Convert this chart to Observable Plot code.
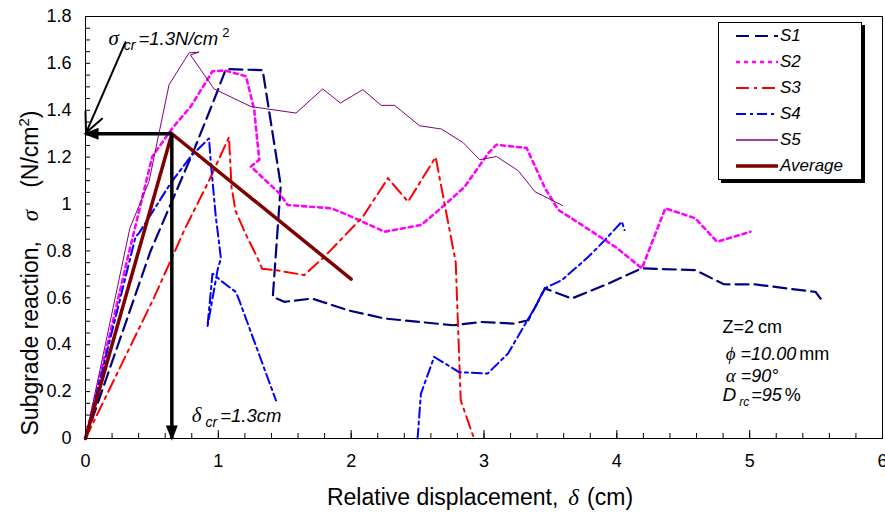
<!DOCTYPE html>
<html><head><meta charset="utf-8">
<script src="https://cdn.jsdelivr.net/npm/d3@7"></script>
<script src="https://cdn.jsdelivr.net/npm/@observablehq/plot@0.6"></script>
<style>
body{margin:0;background:#fff;font-family:"Liberation Sans",Arial,sans-serif;}
#wrap{position:relative;width:885px;height:514px;overflow:hidden;}
#legend{position:absolute;left:718px;top:22px;width:144px;height:158px;border:1px solid #000;background:#fff;box-shadow:3px 3px 0 #000;box-sizing:border-box;}
#legend .row{position:absolute;left:0;height:20px;width:140px;}
#legend svg{position:absolute;left:0;top:0;}
#legend span{position:absolute;left:61px;top:0;line-height:20px;font-style:italic;font-size:17px;}
</style></head><body><div id="wrap"><div id="legend"></div></div>
<script>
// ---- data ----
const xTickLabels = [0, 1, 2, 3, 4, 5, 6];
const yTickLabels = [0, 0.2, 0.4, 0.6, 0.8, 1, 1.2, 1.4, 1.6, 1.8];

const s1X = [0, 0.49, 0.817, 0.968, 1.057, 1.334, 1.47, 1.41, 1.497, 1.706, 1.975, 2.251, 2.767, 2.981, 3.22, 3.333, 3.459, 3.66, 3.937, 4.189, 4.591, 4.805, 5.044, 5.497, 5.534];
const s1Y = [0, 0.80, 1.231, 1.445, 1.576, 1.571, 1.08, 0.604, 0.583, 0.597, 0.547, 0.512, 0.483, 0.497, 0.49, 0.504, 0.64, 0.597, 0.661, 0.726, 0.718, 0.658, 0.657, 0.625, 0.597];

const s2X = [0, 0.33, 0.503, 0.654, 0.792, 0.956, 1.05, 1.208, 1.27, 1.308, 1.245, 1.459, 1.522, 1.849, 1.975, 2.251, 2.528, 2.704, 2.855, 3.032, 3.094, 3.321, 3.459, 3.56, 3.736, 3.987, 4.189, 4.365, 4.591, 4.755, 5.006];
const s2Y = [0, 0.80, 1.203, 1.324, 1.416, 1.566, 1.57, 1.545, 1.402, 1.189, 1.16, 1.046, 0.996, 0.982, 0.953, 0.882, 0.911, 0.996, 1.074, 1.217, 1.253, 1.239, 1.068, 0.975, 0.911, 0.818, 0.726, 0.982, 0.939, 0.839, 0.882];

const s3X = [0, 0.515, 0.753, 0.93, 1.08, 1.10, 1.13, 1.205, 1.293, 1.33, 1.434, 1.647, 1.798, 2.088, 2.277, 2.428, 2.636, 2.787, 2.825, 2.925];
const s3Y = [0, 0.60, 0.90, 1.10, 1.285, 1.07, 0.97, 0.873, 0.773, 0.724, 0.718, 0.697, 0.775, 0.946, 1.11, 1.01, 1.20, 0.752, 0.162, 0];

const s4aX = [0, 0.377, 0.402, 0.641, 0.792, 0.906, 0.93, 0.942, 0.981, 1.006, 1.019, 0.994, 0.918, 0.956, 1.031, 1.132, 1.157, 1.434];
const s4aY = [0, 0.861, 0.875, 1.089, 1.203, 1.267, 1.281, 1.186, 0.946, 0.832, 0.768, 0.718, 0.476, 0.704, 0.668, 0.625, 0.59, 0.162];
const s4bX = [2.5, 2.525, 2.625, 2.813, 3.027, 3.18, 3.40, 3.455, 3.585, 3.786, 3.911, 4.038, 4.058];
const s4bY = [0, 0.191, 0.348, 0.283, 0.277, 0.362, 0.575, 0.64, 0.675, 0.775, 0.847, 0.925, 0.889];

const s5X = [0, 0.334, 0.478, 0.629, 0.78, 0.855, 0.79, 0.968, 1.245, 1.585, 1.786, 1.919, 2.088, 2.226, 2.327, 2.515, 2.679, 2.843, 2.968, 3.094, 3.258, 3.383, 3.59];
const s5Y = [0, 0.897, 1.096, 1.509, 1.645, 1.648, 1.636, 1.491, 1.416, 1.388, 1.491, 1.431, 1.488, 1.421, 1.421, 1.334, 1.32, 1.262, 1.189, 1.203, 1.142, 1.053, 0.994];

const avgX = [0, 0.65, 2.0];
const avgY = [0, 1.3, 0.68];

const critDisp = 0.65;    // delta_cr position on the average curve
const critReact = 1.3;    // sigma_cr

const seriesNames  = ["S1", "S2", "S3", "S4", "S5", "Average"];
const seriesColors = ["#000080", "#FF00FF", "#FF0000", "#0000FF", "#800080", "#800000"];
const seriesDash   = ["13,6", "4,4", "13,5,3,5", "10,4,3,4", null, null];
const seriesWidth  = [2.2, 2.6, 2, 2, 1, 3.5];

// ---- build ----
const pts = (xs, ys) => xs.map((x, i) => ({x, y: ys[i]}));
const seriesData = [
  pts(s1X, s1Y),
  pts(s2X, s2Y),
  pts(s3X, s3Y),
  pts(s4aX, s4aY).concat([{x: NaN, y: NaN}], pts(s4bX, s4bY)),
  pts(s5X, s5Y),
  pts(avgX, avgY)
];

const xMinor = d3.range(0, 31).map(i => i / 5);
const yMinor = d3.range(0, 37).map(i => i / 20);
const serif = '"Liberation Serif","DejaVu Serif",serif';

const lineMarks = seriesData.map((d, k) => Plot.line(d, {
  x: "x", y: "y", stroke: seriesColors[k], strokeWidth: seriesWidth[k],
  strokeDasharray: seriesDash[k] || undefined, strokeLinejoin: "miter", strokeMiterlimit: 2
}));

const note = (key, x, y) => Plot.text([key], {x, y, text: d => d, textAnchor: "start", lineAnchor: "bottom", ariaDescription: "note-" + key});

const chart = Plot.plot({
  width: 885, height: 514,
  marginLeft: 85, marginRight: 3, marginTop: 16, marginBottom: 76,
  x: {domain: [0, 6]},
  y: {domain: [0, 1.8]},
  style: {fontFamily: '"Liberation Sans",Arial,sans-serif', fontSize: "18px", color: "#000", background: "#fff", overflow: "visible"},
  marks: [
    Plot.tickX(xMinor, {x: d => d, insetTop: 417, stroke: "#000"}),
    Plot.tickX(xTickLabels, {x: d => d, insetTop: 414, stroke: "#000"}),
    Plot.tickY(yMinor, {y: d => d, insetRight: 792, stroke: "#000"}),
    Plot.axisX({ticks: xTickLabels, tickSize: 0, tickPadding: 16, tickFormat: d => String(d), label: null, fontSize: 18}),
    Plot.axisY({ticks: yTickLabels, tickSize: 0, tickPadding: 14, tickFormat: d => String(d), label: null, fontSize: 18}),
    ...lineMarks,
    Plot.link([{x1: critDisp, y1: critReact, x2: 0, y2: critReact}, {x1: critDisp, y1: critReact, x2: critDisp, y2: 0}],
      {x1: "x1", y1: "y1", x2: "x2", y2: "y2", stroke: "#000", strokeWidth: 3.5, ariaDescription: "crit"}),
    Plot.arrow([{x1: 0.30, y1: 1.69, x2: 0.004, y2: 1.304}],
      {x1: "x1", y1: "y1", x2: "x2", y2: "y2", stroke: "#000", strokeWidth: 2, headLength: 16, headAngle: 50}),
    note("sigma", 0.173, 1.677),
    note("delta", 0.80, 0.07),
    note("z", 4.796, 0.448),
    note("phi", 4.82, 0.333),
    note("alpha", 4.82, 0.24),
    note("drc", 4.796, 0.158),
    Plot.text(["xt"], {frameAnchor: "bottom", dx: -4, dy: 66, text: d => d, lineAnchor: "bottom", fontSize: 23, ariaDescription: "xtitle"}),
    Plot.text(["yt"], {frameAnchor: "bottom-left", dx: -48, dy: -3, rotate: -90, text: d => d, textAnchor: "start", lineAnchor: "bottom", fontSize: 23, ariaDescription: "ytitle"}),
    Plot.frame({stroke: "#000"})
  ]
});

const svgNS = "http://www.w3.org/2000/svg";
// arrowhead marker for the critical-point arrows
const defs = document.createElementNS(svgNS, "defs");
defs.innerHTML = '<marker id="tri" viewBox="0 0 10 10" refX="8.5" refY="5" markerWidth="4.4" markerHeight="3.4" preserveAspectRatio="none" orient="auto" markerUnits="strokeWidth"><path d="M0,0L10,5L0,10z" fill="#000"/></marker>';
chart.insertBefore(defs, chart.firstChild);
chart.querySelectorAll('g[aria-description="crit"] path, g[aria-description="crit"] line').forEach(p => p.setAttribute("marker-end", "url(#tri)"));

function rich(label, parts) {
  const node = chart.querySelector(`g[aria-description="${label}"] text`);
  if (!node) return;
  node.textContent = "";
  let cur = 0;
  for (const p of parts) {
    const ts = document.createElementNS(svgNS, "tspan");
    const target = p.shift || 0;
    if (target !== cur) ts.setAttribute("dy", target - cur);
    cur = target;
    if (p.dx) ts.setAttribute("dx", p.dx);
    if (p.it) ts.setAttribute("font-style", "italic");
    if (p.size) ts.setAttribute("font-size", p.size);
    if (p.fam) ts.setAttribute("font-family", p.fam);
    ts.textContent = p.t;
    node.appendChild(ts);
  }
}
rich("note-sigma", [
  {t: "σ", it: 1, fam: serif, size: 21},
  {t: "cr", it: 1, size: 14, shift: 5, dx: 5},
  {t: "=1.3N/cm", it: 1, size: 18.5, dx: 3},
  {t: "2", size: 13, shift: -8, dx: 4}
]);
rich("note-delta", [
  {t: "δ", it: 1, fam: serif, size: 21},
  {t: "cr", it: 1, size: 14, shift: 5, dx: 4},
  {t: "=1.3cm", it: 1, size: 18.5, dx: 3}
]);
rich("note-z", [{t: "Z=2", size: 18}, {t: "cm", size: 18, dx: 4}]);
rich("note-phi", [{t: "ϕ", it: 1, fam: serif, size: 19}, {t: "=10.00", it: 1, size: 18, dx: 5}, {t: "mm", size: 18, dx: 3}]);
rich("note-alpha", [{t: "α", it: 1, fam: serif, size: 19}, {t: "=90°", it: 1, size: 18, dx: 5}]);
rich("note-drc", [{t: "D", it: 1, size: 19}, {t: "rc", it: 1, size: 12, shift: 5, dx: 3}, {t: "=95", it: 1, size: 18, dx: 2}, {t: "%", size: 18, dx: 3}]);
rich("xtitle", [{t: "Relative displacement,"}, {t: "δ", it: 1, fam: serif, dx: 10}, {t: "(cm)", dx: 8}]);
rich("ytitle", [{t: "Subgrade reaction,"}, {t: "σ", it: 1, fam: serif, dx: 20}, {t: "(N/cm", dx: 22}, {t: "2", size: 15, shift: -9}, {t: ")"}]);

document.getElementById("wrap").insertBefore(chart, document.getElementById("legend"));

// legend
const legend = document.getElementById("legend");
seriesNames.forEach((name, k) => {
  const row = document.createElement("div");
  row.className = "row";
  row.style.top = (3 + k * 26) + "px";
  row.innerHTML = `<svg width="60" height="20"><line x1="17" y1="10" x2="59" y2="10" stroke="${seriesColors[k]}" stroke-width="${Math.max(seriesWidth[k], 1.3)}" ${seriesDash[k] ? `stroke-dasharray="${seriesDash[k]}"` : ""}/></svg><span>${name}</span>`;
  legend.appendChild(row);
});
</script>
</body></html>
